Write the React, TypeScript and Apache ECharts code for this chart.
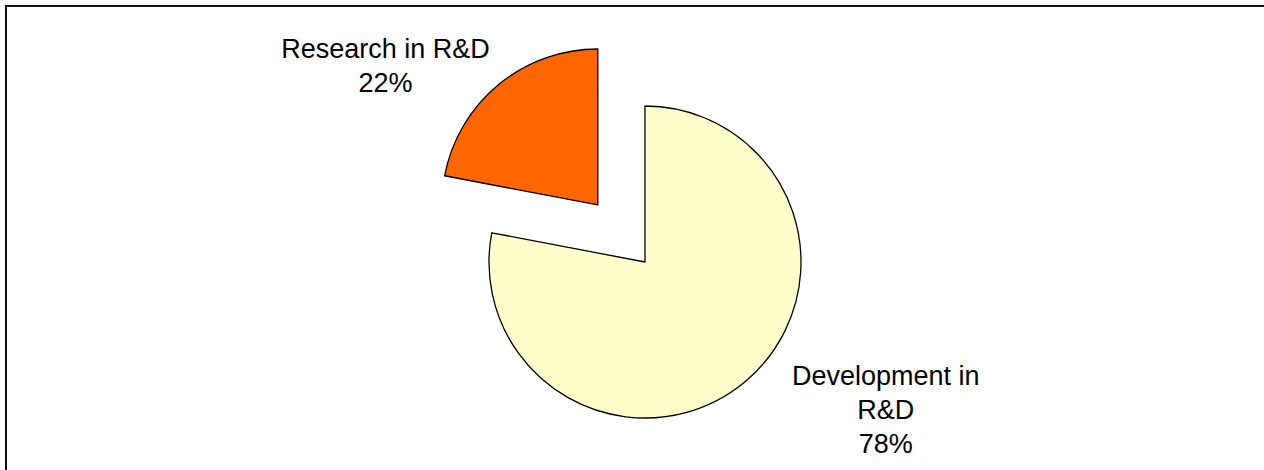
import React, { useEffect, useRef } from "react";
import * as echarts from "echarts";

const categories = ["Development in R&D", "Research in R&D"];
const labelTexts = ["Development in\nR&D", "Research in R&D"];
const values = [78, 22];
const exploded = [false, true];
const sliceColors = ["#FFFFCC", "#FF6600"];

// label placement (hidden leader-line lengths + shifts), px
const leaderLength = [15, 25];
const leaderLength2 = [15, 92];
const labelShiftX = [18, 0];
const labelShiftY = [16, 0];

export default function App() {
  const ref = useRef<HTMLDivElement>(null);
  useEffect(() => {
    if (!ref.current) return;
    const chart = echarts.init(ref.current, null, { renderer: "svg" });
    chart.setOption({
      animation: false,
      backgroundColor: "transparent",
      series: [
        {
          type: "pie",
          center: [645, 262],
          radius: 156,
          startAngle: 90,
          clockwise: true,
          selectedMode: "multiple",
          selectedOffset: 74,
          avoidLabelOverlap: false,
          emphasis: { disabled: true },
          itemStyle: { borderColor: "#000", borderWidth: 1.3 },
          label: {
            show: true,
            position: "outside",
            color: "#000",
            fontFamily: "Liberation Sans, Arial, sans-serif",
            fontSize: 27,
            lineHeight: 34,
            formatter: (p: any) => `${labelTexts[p.dataIndex]}\n${Math.round(p.percent)}%`,
          },
          labelLine: { show: false, length: 15, length2: 15 },
          labelLayout: (p: any) => {
            const r = p.labelRect;
            return {
              x: r.x + r.width / 2 + labelShiftX[p.dataIndex],
              y: r.y + r.height / 2 + labelShiftY[p.dataIndex],
              align: "center",
              verticalAlign: "middle",
            };
          },
          data: categories.map((name, i) => ({
            name,
            value: values[i],
            selected: exploded[i],
            itemStyle: { color: sliceColors[i] },
            labelLine: { show: false, length: leaderLength[i], length2: leaderLength2[i] },
          })),
        },
      ],
    });
    return () => chart.dispose();
  }, []);
  return (
    <div
      style={{
        position: "fixed",
        left: 0,
        top: 0,
        width: 1264,
        height: 470,
        overflow: "hidden",
        background: "#fff",
      }}
    >
      <div
        style={{
          position: "absolute",
          left: 5,
          top: 5,
          width: 1400,
          height: 600,
          border: "2px solid #111",
          boxSizing: "border-box",
        }}
      />
      <div ref={ref} style={{ position: "absolute", left: 0, top: 0, width: 1264, height: 470 }} />
    </div>
  );
}
